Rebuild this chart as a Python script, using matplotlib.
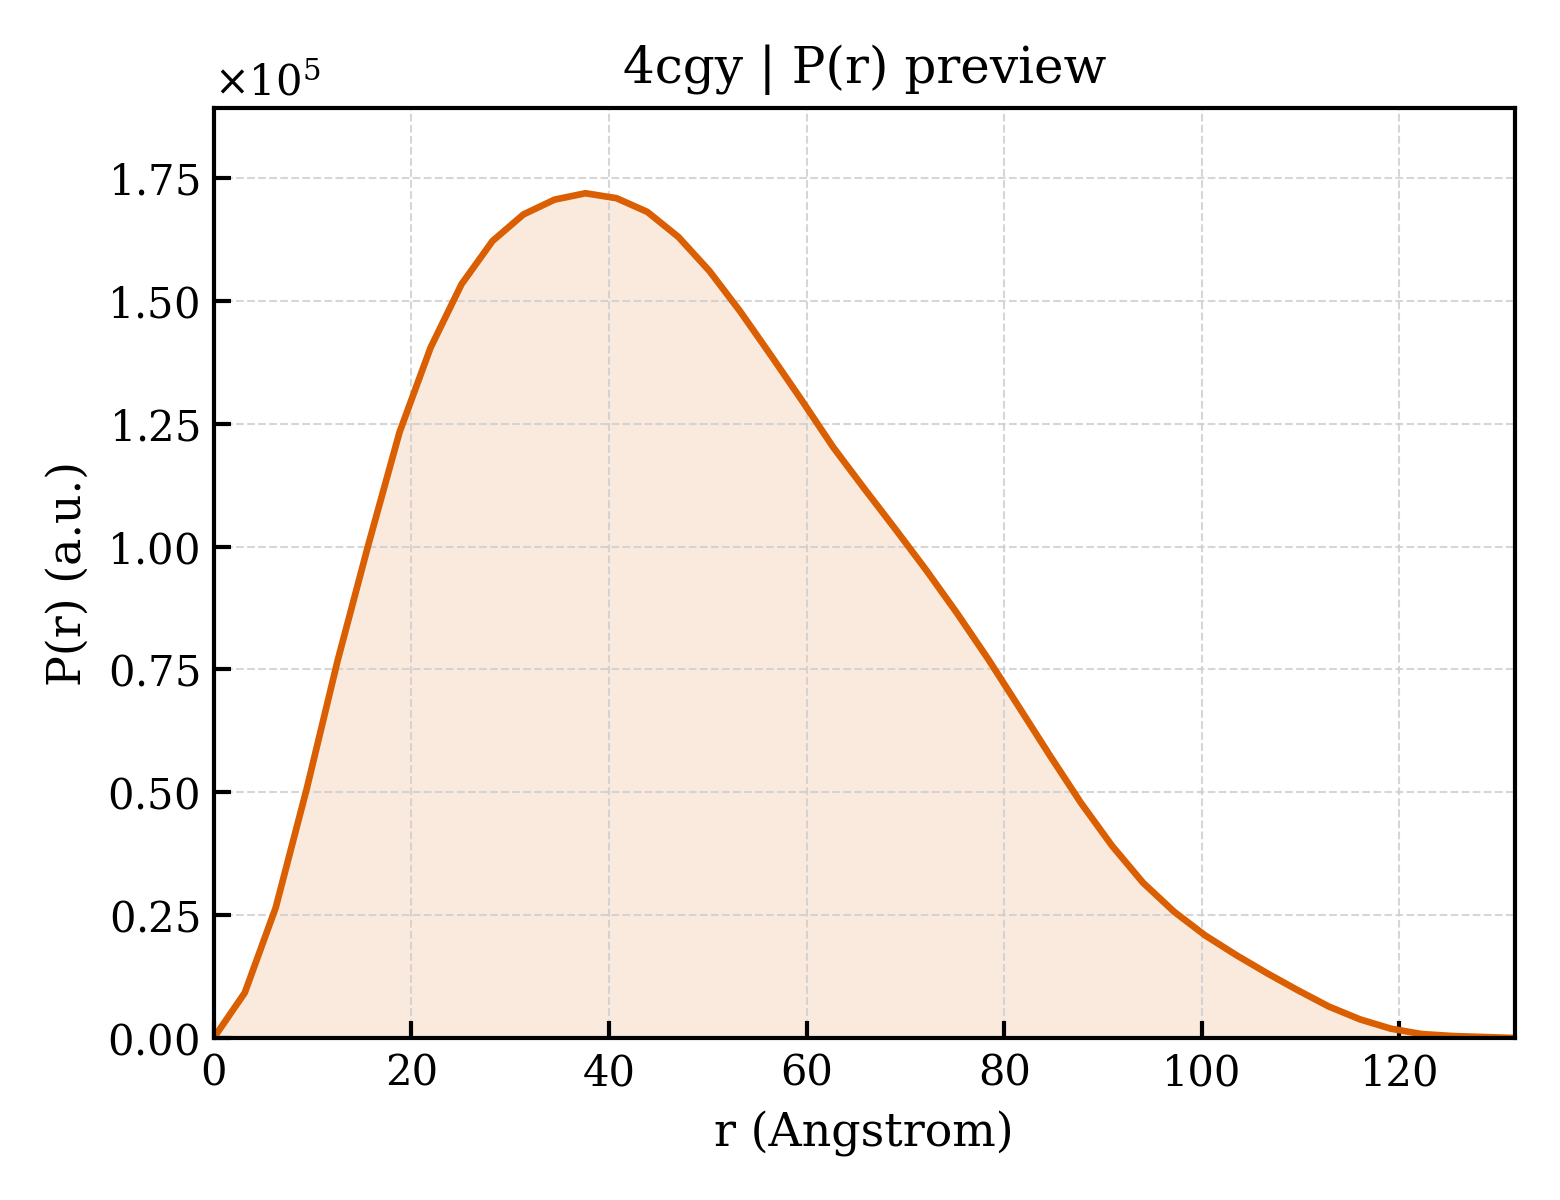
import matplotlib
matplotlib.use("Agg")
import matplotlib.pyplot as plt
import numpy as np


r = [0.0, 3.14, 6.27, 9.41, 12.54, 15.68, 18.81, 21.95, 25.08, 28.22,
     31.35, 34.49, 37.62, 40.76, 43.89, 47.03, 50.16, 53.30, 56.43, 59.57,
     62.70, 65.84, 68.97, 72.11, 75.24, 78.38, 81.51, 84.65, 87.78, 90.92,
     94.05, 97.19, 100.32, 103.46, 106.59, 109.73, 112.86, 116.00, 119.13, 122.27,
     125.40, 128.54, 131.67]
pr = [0.000, 0.092, 0.265, 0.507, 0.768, 1.006, 1.233, 1.405, 1.534, 1.622,
      1.676, 1.706, 1.719, 1.709, 1.681, 1.630, 1.561, 1.478, 1.388, 1.296,
      1.202, 1.118, 1.036, 0.952, 0.864, 0.771, 0.673, 0.574, 0.478, 0.391,
      0.316, 0.257, 0.209, 0.169, 0.132, 0.097, 0.064, 0.038, 0.019, 0.008,
      0.004, 0.002, 0.000]

title = "4cgy | P(r) preview"
color = "#d95f02"

plt.rcParams["font.family"] = "DejaVu Serif"
plt.rcParams["mathtext.fontset"] = "dejavuserif"

x = np.array(r)
y = np.array(pr) * 1e5

fig = plt.figure(figsize=(5.2, 4.0), dpi=300)
ax = fig.add_axes([0.137, 0.135, 0.834, 0.775])

ax.fill_between(x, y, 0, color=color, alpha=0.13, linewidth=0)
ax.plot(x, y, color=color, lw=1.6)

ax.set_xlim(0, x[-1])
ax.set_ylim(0, 1.8925e5)
ax.set_yticks(np.arange(0, 1.76e5, 0.25e5))
ax.ticklabel_format(axis="y", style="sci", scilimits=(0, 0), useMathText=True)
ax.yaxis.get_offset_text().set_fontsize(10)

ax.grid(True, ls="--", lw=0.5, color="#cccccc", alpha=0.8)
ax.tick_params(direction="in", length=4, width=1.0, labelsize=10)
for s in ax.spines.values():
    s.set_linewidth(1.0)

ax.set_xlabel("r (Angstrom)", fontsize=11)
ax.set_ylabel("P(r) (a.u.)", fontsize=11)
ax.set_title(title, fontsize=12)

fig.savefig("out.png", dpi=300)
